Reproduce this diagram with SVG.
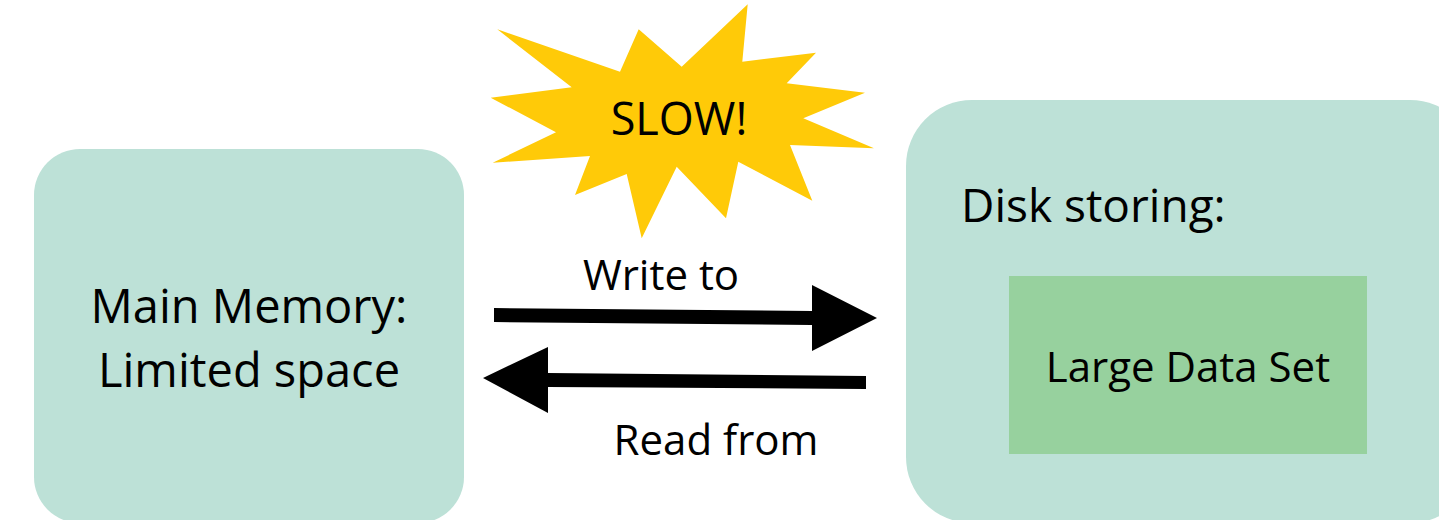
<svg xmlns="http://www.w3.org/2000/svg" width="1439" height="520" viewBox="0 0 1439 520">
<style>
.box{fill:#BDE1D7}
.inner{fill:#97D19E}
.lbl{font-family:"Open Sans","Liberation Sans",sans-serif;font-size:42px;fill:#000}
.big{font-size:47px}
.mid{text-anchor:middle}
.arrow{fill:#000}
</style>
<rect width="1439" height="520" fill="#fff"/>
<g id="main-memory">
<rect class="box" x="34" y="149" width="430" height="374" rx="46"/>
<text class="lbl big mid" x="249" y="323">Main Memory:</text>
<text class="lbl big mid" x="249" y="387">Limited space</text>
</g>
<g id="disk">
<rect class="box" x="906" y="100" width="570" height="423" rx="66"/>
<text class="lbl" x="961" y="222" style="font-size:46px">Disk storing:</text>
</g>
<g id="large-data-set">
<rect class="inner" x="1009" y="276" width="358" height="178"/>
<text class="lbl mid" x="1188" y="382">Large Data Set</text>
</g>
<g id="slow">
<polygon fill="#FFCA08" points="497.3,29.3 620,71.7 638.7,29.3 681.7,66.7 747.7,4.3 742.3,61.7 816,52.7 786.7,83.3 865,92.7 803.3,118.3 874,148.3 790,145 812.3,200.7 738.3,161.7 726,218.3 676.7,166.7 641.7,238.3 626.7,174 575,195 590,156 492.7,162.7 556,132.3 490.7,97.7 571.7,87.3"/>
<text class="lbl mid" x="679" y="135" style="font-size:45px">SLOW!</text>
</g>
<g id="connectors">
<g id="write-to">
<polygon class="arrow" points="494,308 812,311 812,285 877,318 812,351 812,325 494,322"/>
<text class="lbl mid" x="661" y="290">Write to</text>
</g>
<g id="read-from">
<polygon class="arrow" points="483,378 548,347 548,373 866,376 866,389 548,387 548,413"/>
<text class="lbl mid" x="716" y="455">Read from</text>
</g>
</g>
</svg>
